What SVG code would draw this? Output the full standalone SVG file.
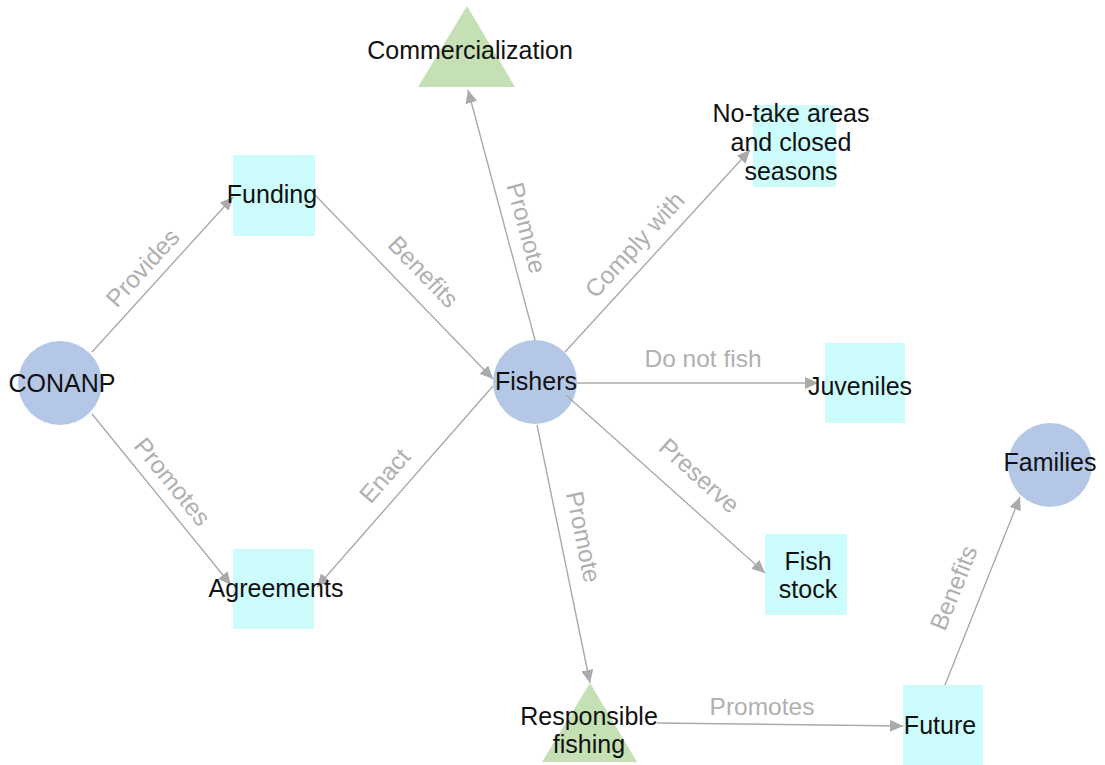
<svg xmlns="http://www.w3.org/2000/svg" width="1105" height="765" viewBox="0 0 1105 765">
<defs>
<style>
.nt{font-family:"Liberation Sans",Arial,sans-serif;font-size:25px;fill:#111;text-anchor:middle}
.el{font-family:"Liberation Sans",Arial,sans-serif;font-size:24.5px;fill:#b0b0b0;text-anchor:middle}
.circ{fill:#b4c7e7}
.sq{fill:#ccfcfc}
.tri{fill:#c5e0b4}
.edge{stroke:#aaaaaa;stroke-width:1.4;fill:none;marker-end:url(#arr)}
</style>
<marker id="arr" markerUnits="userSpaceOnUse" markerWidth="14" markerHeight="12" refX="13" refY="6" orient="auto">
<path d="M0,0 L13,6 L0,12 Z" fill="#aaaaaa"/>
</marker>
</defs>
<rect width="1105" height="765" fill="#ffffff"/>
<g id="nodes-shapes">
<g id="CONANP"><circle class="circ" cx="60" cy="383" r="42"/></g>
<g id="Fishers"><circle class="circ" cx="535" cy="382" r="42"/></g>
<g id="Families"><circle class="circ" cx="1050" cy="465" r="42"/></g>
<g id="Funding"><rect class="sq" x="233" y="155" width="82" height="81"/></g>
<g id="Agreements"><rect class="sq" x="233" y="549" width="81" height="80"/></g>
<g id="NoTake"><rect class="sq" x="753" y="105" width="83" height="82"/></g>
<g id="Juveniles"><rect class="sq" x="825" y="343" width="80" height="80"/></g>
<g id="FishStock"><rect class="sq" x="765" y="534" width="82" height="81"/></g>
<g id="Future"><rect class="sq" x="903" y="685" width="80" height="80"/></g>
<g id="Commercialization"><polygon class="tri" points="467,6 418,87 515,87"/></g>
<g id="Responsible"><polygon class="tri" points="590,683 542,762 637,762"/></g>
</g>
<g id="connectors">
<line class="edge" x1="92" y1="352" x2="233" y2="197"/>
<line class="edge" x1="92" y1="414" x2="231" y2="585"/>
<line class="edge" x1="315" y1="195" x2="493" y2="379"/>
<line class="edge" x1="493" y1="386" x2="317" y2="587"/>
<line class="edge" x1="535" y1="340" x2="468" y2="90"/>
<line class="edge" x1="565" y1="352" x2="750" y2="150"/>
<line class="edge" x1="577" y1="383" x2="818" y2="383"/>
<line class="edge" x1="566" y1="395" x2="765" y2="573"/>
<line class="edge" x1="537" y1="425" x2="590" y2="683"/>
<line class="edge" x1="657" y1="723" x2="903" y2="726"/>
<line class="edge" x1="945" y1="685" x2="1020" y2="497"/>
<text class="el" transform="translate(143,268) rotate(-47.7)" y="8">Provides</text>
<text class="el" transform="translate(172,482) rotate(50.9)" y="8">Promotes</text>
<text class="el" transform="translate(423,272) rotate(46.1)" y="8">Benefits</text>
<text class="el" transform="translate(385,476) rotate(-48.9)" y="8">Enact</text>
<text class="el" transform="translate(526,228) rotate(75)" y="8">Promote</text>
<text class="el" transform="translate(635,245) rotate(-47.5)" y="8">Comply with</text>
<text class="el" x="703" y="367">Do not fish</text>
<text class="el" transform="translate(699,476) rotate(41.8)" y="8">Preserve</text>
<text class="el" transform="translate(583,537) rotate(78.4)" y="8">Promote</text>
<text class="el" x="762" y="715">Promotes</text>
<text class="el" transform="translate(954,588) rotate(-68.2)" y="8">Benefits</text>
</g>
<g id="labels">
<text class="nt" x="62" y="392">CONANP</text>
<text class="nt" x="536" y="390">Fishers</text>
<text class="nt" x="1050" y="471">Families</text>
<text class="nt" x="272" y="203">Funding</text>
<text class="nt" x="276" y="597">Agreements</text>
<text class="nt" x="791" y="122">No-take areas</text>
<text class="nt" x="791" y="151">and closed</text>
<text class="nt" x="791" y="180">seasons</text>
<text class="nt" x="860" y="395">Juveniles</text>
<text class="nt" x="808" y="570">Fish</text>
<text class="nt" x="808" y="598">stock</text>
<text class="nt" x="940" y="734">Future</text>
<text class="nt" x="470" y="59">Commercialization</text>
<text class="nt" x="589" y="725">Responsible</text>
<text class="nt" x="589" y="753">fishing</text>
</g>
</svg>
